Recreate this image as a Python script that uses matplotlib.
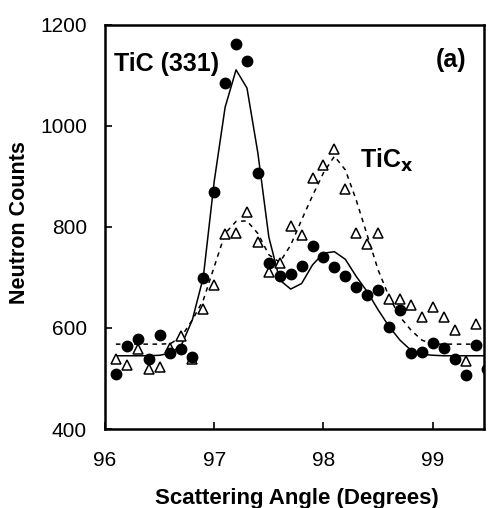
import numpy as np
import matplotlib
matplotlib.use("Agg")
import matplotlib.pyplot as plt

plt.rcParams['font.family'] = ['Liberation Sans', 'DejaVu Sans']

# measured points, TiC (filled circles)
tic_angle = [96.1, 96.2, 96.3, 96.4, 96.5, 96.6, 96.7, 96.8, 96.9, 97.0,
             97.1, 97.2, 97.3, 97.4, 97.5, 97.6, 97.7, 97.8, 97.9, 98.0,
             98.1, 98.2, 98.3, 98.4, 98.5, 98.6, 98.7, 98.8, 98.9, 99.0,
             99.1, 99.2, 99.3, 99.4, 99.5]
tic_counts = [509, 564, 578, 538, 586, 550, 558, 542, 698, 870,
              1084, 1162, 1129, 906, 729, 702, 707, 723, 762, 741,
              721, 703, 682, 665, 675, 602, 636, 551, 552, 570,
              560, 538, 506, 566, 519]

# measured points, TiCx (open triangles)
ticx_angle = [96.1, 96.2, 96.3, 96.4, 96.5, 96.6, 96.7, 96.8, 96.9, 97.0,
              97.1, 97.2, 97.3, 97.4, 97.5, 97.6, 97.7, 97.8, 97.9, 98.0,
              98.1, 98.2, 98.3, 98.4, 98.5, 98.6, 98.7, 98.8, 98.9, 99.0,
              99.1, 99.2, 99.3, 99.4]
ticx_counts = [538, 527, 558, 519, 522, 560, 584, 538, 637, 686,
               786, 789, 830, 771, 710, 729, 802, 784, 896, 922,
               954, 875, 788, 766, 788, 657, 657, 645, 621, 641,
               621, 596, 534, 608]

# fitted curves
fit_angle = [96.1, 96.2, 96.3, 96.4, 96.5, 96.6, 96.7, 96.8, 96.9, 97.0,
             97.1, 97.2, 97.3, 97.4, 97.5, 97.6, 97.7, 97.8, 97.9, 98.0,
             98.1, 98.2, 98.3, 98.4, 98.5, 98.6, 98.7, 98.8, 98.9, 99.0,
             99.1, 99.2, 99.3, 99.4, 99.5]
fit_tic = [545, 545, 545, 545, 546, 550, 566, 616, 700, 890,
           1037, 1111, 1075, 946, 780, 695, 677, 688, 725, 748,
           751, 736, 702, 672, 636, 603, 576, 556, 548, 546,
           545, 545, 545, 545, 545]
fit_ticx = [568, 568, 568, 568, 568, 569, 583, 616, 655, 721,
            787, 811, 812, 787, 745, 730, 764, 814, 862, 907,
            940, 913, 853, 784, 715, 662, 622, 596, 576, 568,
            568, 568, 568, 568, 568]

fig = plt.figure(figsize=(4.88, 5.08), dpi=100)
ax = fig.add_axes([0.215, 0.1555, 0.777, 0.7955])

ax.plot(fit_angle, fit_tic, color='black', lw=1.1, zorder=2)
ax.plot(fit_angle, fit_ticx, color='black', lw=1.1, ls=(0, (3, 3)), zorder=2)
ax.plot(ticx_angle, ticx_counts, ls='none', marker='^', ms=7.5,
        mfc='white', mec='black', mew=1.1, zorder=3)
ax.plot(tic_angle, tic_counts, ls='none', marker='o', ms=7.5,
        mfc='black', mec='black', zorder=4)

ax.set_xlim(96, 99.47)
ax.set_ylim(400, 1200)
ax.set_xticks([96, 97, 98, 99])
ax.set_yticks([400, 600, 800, 1000, 1200])
ax.tick_params(direction='in', length=5, width=1.2, labelsize=15)
ax.tick_params(axis='y', pad=13)
ax.tick_params(axis='x', pad=16)
for s in ax.spines.values():
    s.set_linewidth(1.8)

ax.set_xlabel('Scattering Angle (Degrees)', fontsize=16, fontweight='bold')
ax.set_ylabel('Neutron Counts', fontsize=15.5, fontweight='bold')
ax.xaxis.set_label_coords(0.505, -0.146)
ax.yaxis.set_label_coords(-0.197, 0.51)

ax.text(96.08, 1123, 'TiC (331)', fontsize=18, fontweight='bold', va='center')
ax.text(99.31, 1131, '(a)', fontsize=18, fontweight='bold', va='center', ha='right')
ax.text(98.33, 931, r'TiC$_\mathbf{x}$', fontsize=18, fontweight='bold', va='center')

fig.savefig('out.png', dpi=100)
